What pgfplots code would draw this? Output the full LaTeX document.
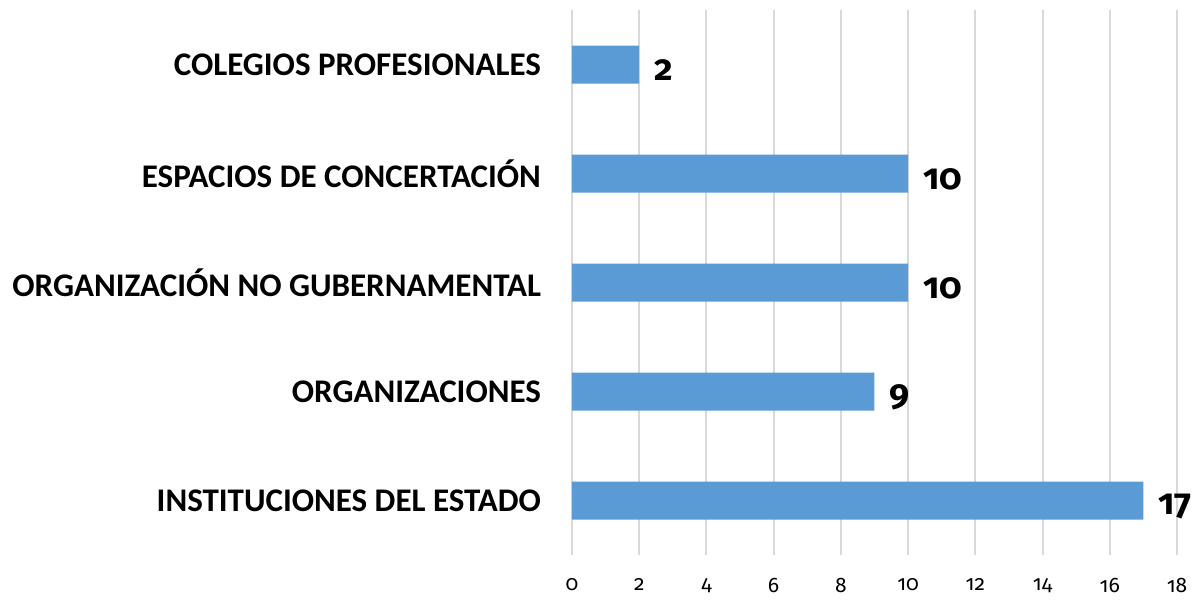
\documentclass[border=0pt]{standalone}
\usepackage{fontspec}
\setmainfont{Carlito}
\newfontfamily\numfont{Fira Sans}[Numbers=OldStyle]
\usepackage{pgfplots}
\pgfplotsset{compat=1.18}
\definecolor{barblue}{HTML}{5B9BD5}
\definecolor{gridgray}{HTML}{D9D9D9}
\begin{document}
\begin{tikzpicture}
\useasboundingbox (-286pt,-23pt) rectangle (311.5pt,277.5pt);
\begin{axis}[
  scale only axis, width=302.5pt, height=272.5pt,
  /pgf/number format/assume math mode=true,
  xbar, bar width=19pt,
  xmin=0, xmax=18, ymin=-0.5, ymax=4.5,
  xtick={0,2,...,18},
  ytick={0,...,4},
  yticklabels={INSTITUCIONES DEL ESTADO, ORGANIZACIONES, ORGANIZACIÓN NO GUBERNAMENTAL, ESPACIOS DE CONCERTACIÓN, COLEGIOS PROFESIONALES},
  xmajorgrids, grid style={gridgray, line width=1pt},
  axis line style={draw=none},
  major tick length=0pt,
  xticklabel style={font=\numfont\fontsize{10.5}{12}\selectfont, yshift=-8pt},
  yticklabel style={font=\bfseries\fontsize{16.5}{18}\selectfont, xshift=-12pt},
  nodes near coords,
  nodes near coords style={font=\numfont\bfseries\fontsize{18}{20}\selectfont, anchor=west, xshift=4pt, yshift=-3pt},
]
\addplot[fill=barblue, draw=none] coordinates {(17,0) (9,1) (10,2) (10,3) (2,4)};
\end{axis}
\end{tikzpicture}
\end{document}
